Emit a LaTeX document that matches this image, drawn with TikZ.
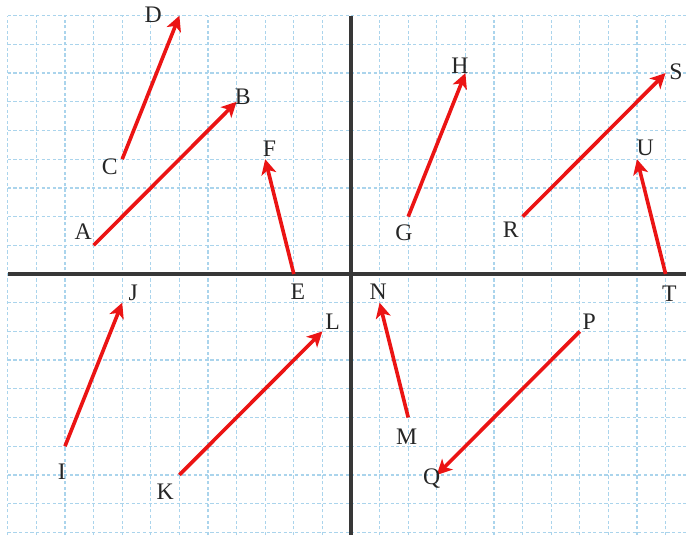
\documentclass[tikz,border=0pt]{standalone}
\usepackage{fontspec}
\setmainfont{Liberation Serif}
\usetikzlibrary{arrows.meta}
\definecolor{gridblue}{RGB}{170,212,236}
\definecolor{axisgray}{RGB}{55,55,55}
\definecolor{vecred}{RGB}{235,20,20}
\tikzset{
  gridline/.style={gridblue, line width=0.6pt, dash pattern=on 1.6pt off 1.2pt},
  axisline/.style={axisgray, line width=1.5pt},
  vec/.style={vecred, line width=1.8pt, -{Stealth[length=7.5pt,width=7.5pt,inset=2pt]}},
  lbl/.style={inner sep=0pt, font=\fontsize{11.8}{12}\selectfont, text=black!85}
}
\begin{document}
\begin{tikzpicture}[x=0.5cm,y=0.50175cm]
\useasboundingbox (-12.273,-9.094) rectangle (11.713,9.547);
% grid
\foreach \y in {-9,...,9} \draw[gridline] (-12,\y) -- (11.713,\y);
\foreach \x in {-12,...,11} \draw[gridline] (\x,-9.094) -- (\x,9);
% axes
\draw[axisline] (-12,0) -- (11.713,0);
\draw[axisline] (0,9) -- (0,-9.094);
% points
\coordinate (A) at (-9,1);   \coordinate (B) at (-4,6);
\coordinate (C) at (-8,4);   \coordinate (D) at (-6,9);
\coordinate (E) at (-2,0);   \coordinate (F) at (-3,4);
\coordinate (G) at (2,2);    \coordinate (H) at (4,7);
\coordinate (R) at (6,2);    \coordinate (S) at (11,7);
\coordinate (T) at (11,0);   \coordinate (U) at (10,4);
\coordinate (I) at (-10,-6); \coordinate (J) at (-8,-1);
\coordinate (K) at (-6,-7);  \coordinate (L) at (-1,-2);
\coordinate (M) at (2,-5);   \coordinate (N) at (1,-1);
\coordinate (P) at (8,-2);   \coordinate (Q) at (3,-7);
% vectors
\draw[vec] (A) -- (B);
\draw[vec] (C) -- (D);
\draw[vec] (E) -- (F);
\draw[vec] (G) -- (H);
\draw[vec] (R) -- (S);
\draw[vec] (T) -- (U);
\draw[vec] (I) -- (J);
\draw[vec] (K) -- (L);
\draw[vec] (M) -- (N);
\draw[vec] (P) -- (Q);
% labels
\node[lbl] (lA) at (-9.36,1.47) {A};
\node[lbl] (lB) at (-3.78,6.17) {B};
\node[lbl] (lC) at (-8.43,3.74) {C};
\node[lbl] (lD) at (-6.92,9.02) {D};
\node[lbl] (lE) at (-1.86,-0.62) {E};
\node[lbl] (lF) at (-2.85,4.38) {F};
\node[lbl] (lG) at (1.85,1.42) {G};
\node[lbl] (lH) at (3.81,7.25) {H};
\node[lbl] (lR) at (5.59,1.53) {R};
\node[lbl] (lS) at (11.36,7.05) {S};
\node[lbl] (lT) at (11.13,-0.68) {T};
\node[lbl] (lU) at (10.29,4.38) {U};
\node[lbl] (lI) at (-10.11,-6.9) {I};
\node[lbl] (lJ) at (-7.61,-0.67) {J};
\node[lbl] (lK) at (-6.5,-7.6) {K};
\node[lbl] (lL) at (-0.64,-1.66) {L};
\node[lbl] (lM) at (1.95,-5.67) {M};
\node[lbl] (lN) at (0.95,-0.62) {N};
\node[lbl] (lP) at (8.33,-1.66) {P};
\node[lbl] (lQ) at (2.82,-7.13) {Q};
\end{tikzpicture}
\end{document}
